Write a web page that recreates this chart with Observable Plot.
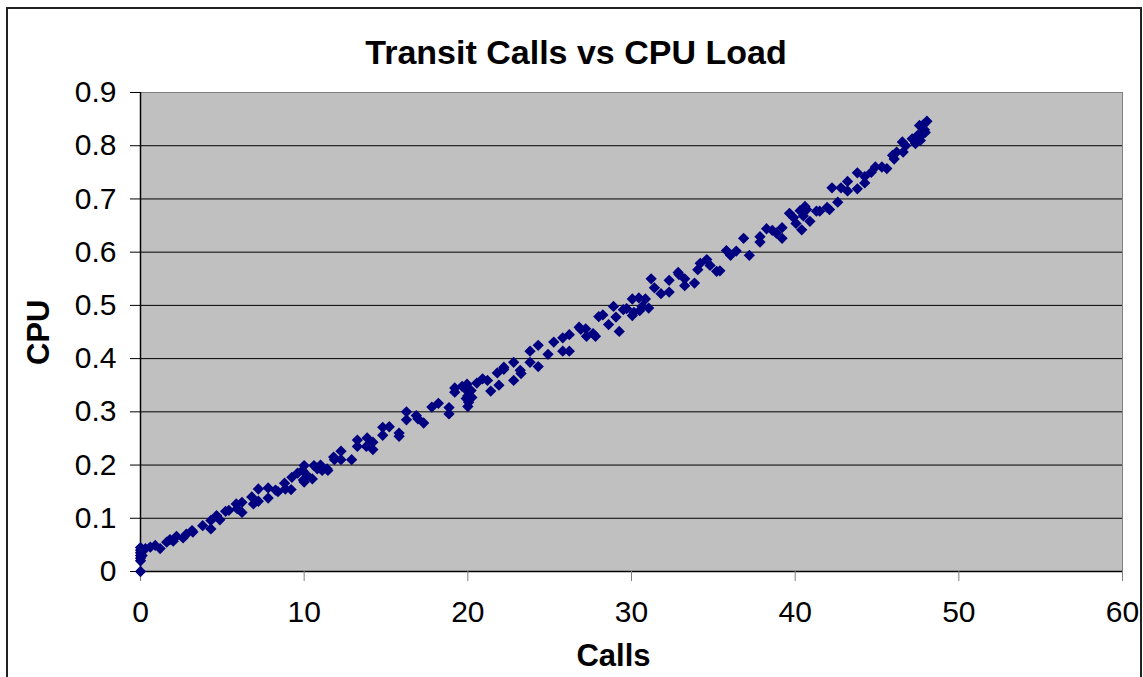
<!DOCTYPE html>
<html><head><meta charset="utf-8">
<script src="https://cdn.jsdelivr.net/npm/d3@7"></script>
<script src="https://cdn.jsdelivr.net/npm/@observablehq/plot@0.6"></script>
<style>
body{margin:0;background:#fff;overflow:hidden}
#wrap{position:relative;width:1143px;height:677px;font-family:"Liberation Sans",Arial,sans-serif}
#frame{position:absolute;left:6px;top:7px;width:1136px;height:700px;border:2px solid #222;box-sizing:border-box}
#title{position:absolute;left:576px;top:35px;transform:translateX(-50%);font-weight:bold;font-size:34px;line-height:1;white-space:nowrap;color:#000}
#chart{position:absolute;left:0;top:0}
</style></head>
<body><div id="wrap"><div id="frame"></div><div id="title">Transit Calls vs CPU Load</div><div id="chart"></div></div>
<script>
const calls = [0,0,0,0,0,0,0,0.1,0.3,0.6,0.9,1.2,1.6,1.8,2.0,2.2,2.6,2.8,3.15,3.2,3.8,4.3,4.3,4.65,4.85,5.2,5.4,5.85,5.9,6.2,6.2,6.8,6.9,7.2,7.2,7.8,7.8,8.25,8.4,8.8,8.85,9.25,9.2,9.6,9.9,10.0,10.0,9.95,10.2,10.5,10.6,10.8,11.0,11.1,11.45,11.4,11.8,11.85,12.25,12.25,12.9,13.25,13.25,13.85,13.8,14.2,14.2,14.8,14.8,15.2,15.8,15.8,16.25,16.25,16.85,16.95,17.3,17.8,18.2,18.85,18.85,19.2,19.2,19.65,19.95,19.95,20.0,20.0,19.9,20.05,20.0,20.25,20.2,20.55,20.9,21.2,21.4,21.8,21.9,22.2,22.2,22.8,22.8,23.2,23.25,23.8,23.8,24.3,24.3,24.9,25.25,25.8,25.8,26.2,26.2,26.8,26.9,27.2,27.25,27.65,27.8,28.0,28.25,28.6,28.9,29.05,29.25,29.5,29.7,30.05,30.05,30.15,30.45,30.5,30.85,30.65,31.05,31.2,31.4,31.8,32.3,32.3,32.85,32.9,33.25,33.25,33.85,34.05,34.2,34.6,34.8,35.2,35.4,35.8,36.05,36.4,36.85,37.2,37.85,37.85,38.25,38.6,38.85,39.2,39.2,39.65,39.9,40.05,40.4,40.3,40.5,40.6,40.7,40.9,41.3,41.5,41.95,42.1,42.6,42.25,42.8,43.2,43.2,43.8,43.8,44.25,44.25,44.65,44.9,45.3,45.6,45.95,46.05,46.2,46.6,46.55,46.75,47.15,47.35,47.45,47.65,47.6,47.85,48.05,47.95,47.8,47.5,47.9];
const cpu = [0,0.02,0.025,0.03,0.035,0.04,0.045,0.03,0.043,0.046,0.049,0.043,0.055,0.06,0.057,0.066,0.063,0.07,0.077,0.074,0.086,0.096,0.08,0.105,0.097,0.113,0.115,0.127,0.118,0.13,0.111,0.14,0.127,0.155,0.132,0.157,0.138,0.153,0.15,0.166,0.155,0.177,0.154,0.185,0.19,0.199,0.168,0.172,0.18,0.174,0.199,0.193,0.2,0.19,0.19,0.193,0.215,0.21,0.226,0.21,0.21,0.247,0.235,0.251,0.235,0.243,0.229,0.271,0.256,0.272,0.26,0.254,0.3,0.285,0.293,0.287,0.279,0.309,0.316,0.308,0.296,0.345,0.337,0.348,0.352,0.345,0.338,0.33,0.325,0.318,0.31,0.327,0.34,0.354,0.362,0.359,0.339,0.373,0.35,0.384,0.38,0.393,0.359,0.378,0.372,0.414,0.393,0.425,0.385,0.408,0.431,0.439,0.414,0.445,0.414,0.459,0.455,0.456,0.442,0.447,0.442,0.479,0.482,0.464,0.498,0.478,0.451,0.492,0.494,0.512,0.481,0.487,0.514,0.49,0.512,0.498,0.495,0.55,0.533,0.522,0.547,0.525,0.562,0.558,0.55,0.537,0.542,0.567,0.579,0.586,0.575,0.564,0.565,0.603,0.594,0.602,0.626,0.594,0.629,0.619,0.644,0.641,0.636,0.646,0.626,0.673,0.665,0.654,0.642,0.678,0.668,0.686,0.68,0.658,0.677,0.677,0.684,0.68,0.694,0.721,0.721,0.733,0.715,0.749,0.719,0.742,0.73,0.75,0.76,0.76,0.757,0.782,0.775,0.788,0.788,0.807,0.8,0.813,0.804,0.815,0.81,0.838,0.84,0.846,0.825,0.822,0.82,0.83];
const xTicks = [0,10,20,30,40,50,60];
const yTicks = [0,0.1,0.2,0.3,0.4,0.5,0.6,0.7,0.8,0.9];

const data = calls.map((c,i)=>({calls:c, cpu:cpu[i]}));
const font = '"Liberation Sans", Arial, sans-serif';

const chart = Plot.plot({
  width: 1143, height: 677,
  marginLeft: 140, marginRight: 21, marginTop: 92, marginBottom: 106,
  style: {fontFamily: font, fontSize: "29px", background: "transparent", color: "#000"},
  x: {domain: [0, 60]},
  y: {domain: [0, 0.9]},
  marks: [
    Plot.frame({fill: "#c0c0c0", stroke: null}),
    Plot.ruleY(yTicks, {stroke: "#000", strokeWidth: 1}),
    Plot.frame({stroke: "#808080", strokeWidth: 1}),
    Plot.ruleX([0], {stroke: "#000", strokeWidth: 1.5}),
    Plot.ruleY([0], {stroke: "#000", strokeWidth: 1.5}),
    Plot.axisY({ticks: yTicks, tickFormat: d => String(d), tickSize: 10, tickPadding: 14, label: null, stroke: "#000", fontSize: 30}),
    Plot.axisX({ticks: xTicks, tickFormat: d => String(d), tickSize: 10, tickPadding: 19, label: null, stroke: "#808080", fill: "#000", fontSize: 30}),
    Plot.dot(data, {x: "calls", y: "cpu", symbol: "square", r: 4.5, rotate: 45, fill: "#000080", stroke: null}),
    Plot.text(["Calls"], {frameAnchor: "bottom", dx: -18, dy: 94, fontWeight: "bold", fontSize: 31, fill: "#000"}),
    Plot.text(["CPU"], {frameAnchor: "left", dx: -101, dy: 33, rotate: -90, fontWeight: "bold", fontSize: 31, fill: "#000"})
  ]
});
document.getElementById("chart").appendChild(chart);
</script></body></html>
